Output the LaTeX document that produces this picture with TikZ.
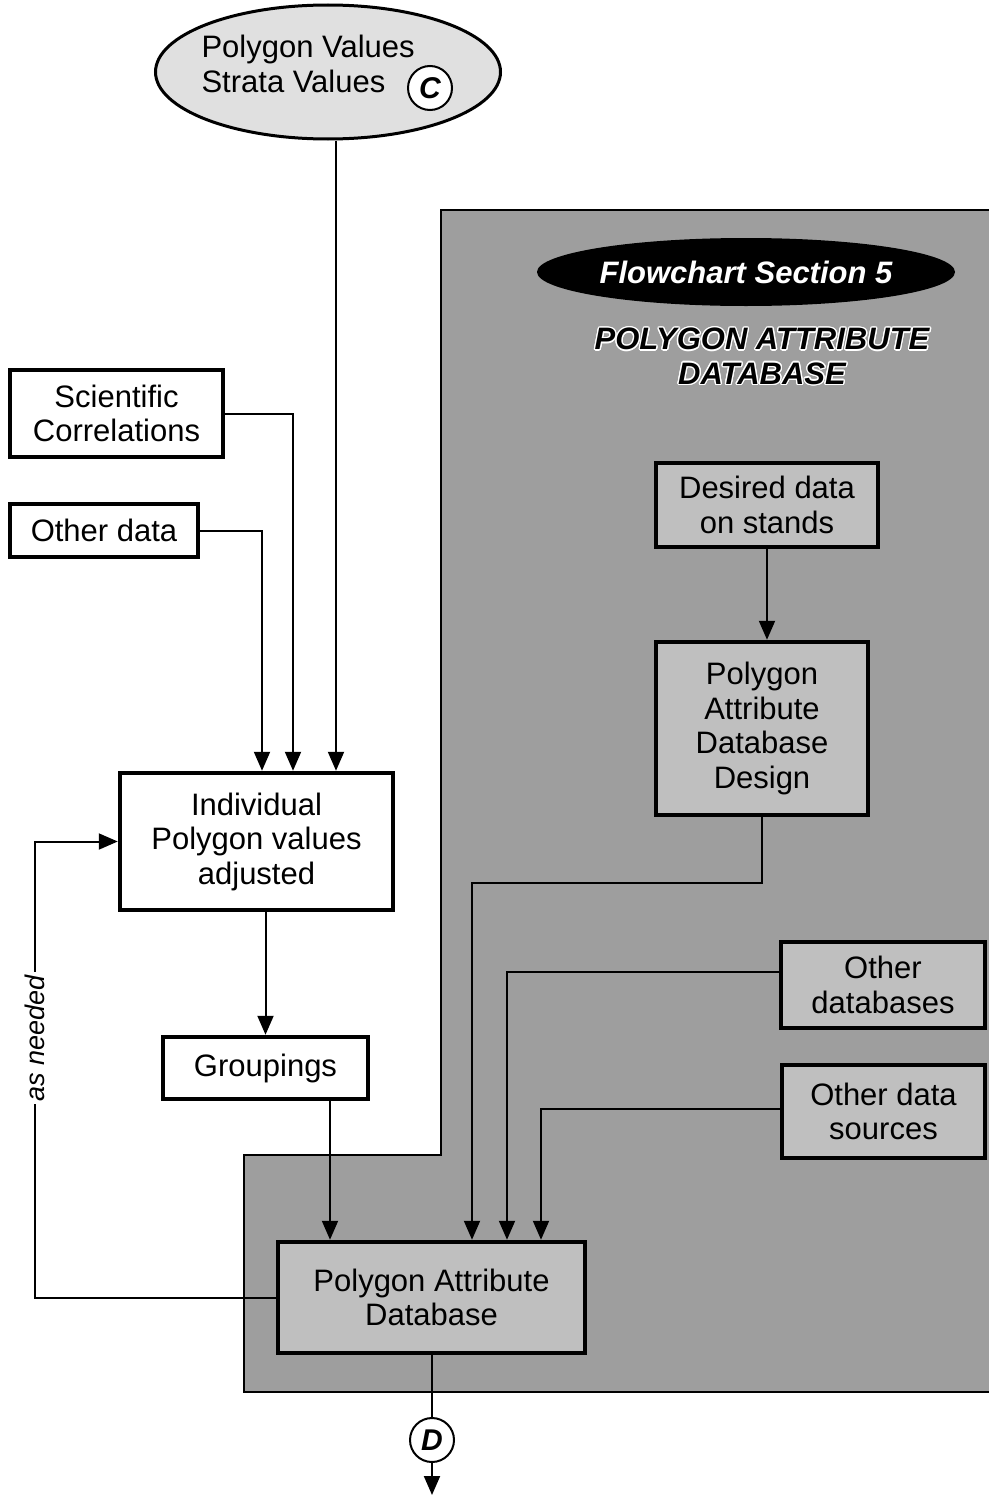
\documentclass[tikz,border=0pt]{standalone}
\usepackage{fontspec}
\setmainfont{Liberation Sans}
\usepackage{contour}
\contourlength{1.3pt}
\contournumber{16}
\usetikzlibrary{shapes.geometric,arrows.meta,calc}

\begin{document}
\begin{tikzpicture}[x=1pt,y=-1pt,
  txt/.style={font=\fontsize{31}{34.5}\selectfont},
  stepbox/.style={draw, line width=4.5pt, fill=white, align=center, inner sep=0pt, txt},
  shadebox/.style={stepbox, fill=black!25},
  conn/.style={line width=2pt},
  arr/.style={conn, -{Triangle[length=19pt,width=16pt]}},
  conncirc/.style={circle, draw, line width=2pt, fill=white, minimum size=44pt, inner sep=0pt,
    font=\fontsize{30}{30}\selectfont\bfseries\itshape}
]
\useasboundingbox (0,0) rectangle (988,1496);

% shaded region of section 5
\path[draw=black, line width=1.5pt, fill=black!38]
  (441,210) -- (992,210) -- (992,1392) -- (244,1392) -- (244,1155) -- (441,1155) -- cycle;

% lanes for the vertical connectors
\coordinate (lsci) at (293,0);
\coordinate (loth) at (262,0);
\coordinate (lell) at (336,0);
\coordinate (lgrp) at (330,0);
\coordinate (ldsg) at (472,0);
\coordinate (lodb) at (507,0);
\coordinate (lods) at (541,0);
\coordinate (ldsgbend) at (0,883);
\coordinate (lneed) at (35,0);

% nodes
\node[ellipse, draw, line width=3pt, fill=black!12, minimum width=345pt, minimum height=134pt, inner sep=0pt] (ell) at (328,72) {};
\node[txt, anchor=west, align=left] (elltxt) at (198,64) {Polygon Values\\Strata Values};
\node[conncirc] (C) at (430,88) {C};

\node[stepbox, minimum width=213pt, minimum height=87pt] (sci) at (116.5,413.5) {Scientific\\Correlations};
\node[stepbox, minimum width=188pt, minimum height=53pt] (oth) at (104,530.5) {Other data};
\node[stepbox, minimum width=273pt, minimum height=137pt] (ind) at (256.5,841.5) {Individual\\Polygon values\\adjusted};
\node[stepbox, minimum width=205pt, minimum height=62pt] (grp) at (265.5,1068) {Groupings};
\node[shadebox, minimum width=307pt, minimum height=111pt] (pad) at (431.5,1297.5) {Polygon Attribute\\Database};
\node[conncirc] (D) at (432,1440) {D};
\coordinate (dend) at (432,1495);

\node[ellipse, fill=black, minimum width=418pt, minimum height=68pt, inner sep=0pt, text=white,
  font=\fontsize{31}{34.5}\selectfont\bfseries\itshape] (sec) at (746,272) {Flowchart Section 5};
\node[font=\fontsize{31}{34.5}\selectfont\bfseries\itshape, align=center] (title) at (762,357)
  {\contour{white}{POLYGON ATTRIBUTE}\\\contour{white}{DATABASE}};

\node[shadebox, minimum width=222pt, minimum height=84pt] (des) at (767,505) {Desired data\\on stands};
\node[shadebox, minimum width=212pt, minimum height=173pt] (dsg) at (762,728.5) {Polygon\\Attribute\\Database\\Design};
\node[shadebox, minimum width=204pt, minimum height=86pt] (odb) at (883,985) {Other\\databases};
\node[shadebox, minimum width=203pt, minimum height=93pt] (ods) at (883.5,1111.5) {Other data\\sources};

% connectors into the individual polygon box
\draw[arr] (ell.south -| lell) -- (ind.north -| lell);
\draw[arr] (sci.east) -| (ind.north -| lsci);
\draw[arr] (oth.east) -| (ind.north -| loth);
\draw[arr] (ind.south -| grp.north) -- (grp.north);
\draw[arr] (grp.south -| lgrp) -- (pad.north -| lgrp);

% feedback loop
\draw[arr] (pad.west) -| (lneed |- ind.west) -- (ind.west);
\node[fill=white, inner sep=3pt, rotate=90, font=\fontsize{27}{30}\selectfont\itshape] (need) at (35,1038) {as needed};

% section 5 connectors
\draw[arr] (des.south) -- (des.south |- dsg.north);
\draw[arr] (dsg.south) -- (dsg.south |- ldsgbend) -| (pad.north -| ldsg);
\draw[arr] ([yshift=13pt]odb.west) -| (pad.north -| lodb);
\draw[arr] ([yshift=3pt]ods.west) -| (pad.north -| lods);

% exit
\draw[conn] (pad.south -| D) -- (D.north);
\draw[arr] (D.south) -- (dend);
\end{tikzpicture}
\end{document}
